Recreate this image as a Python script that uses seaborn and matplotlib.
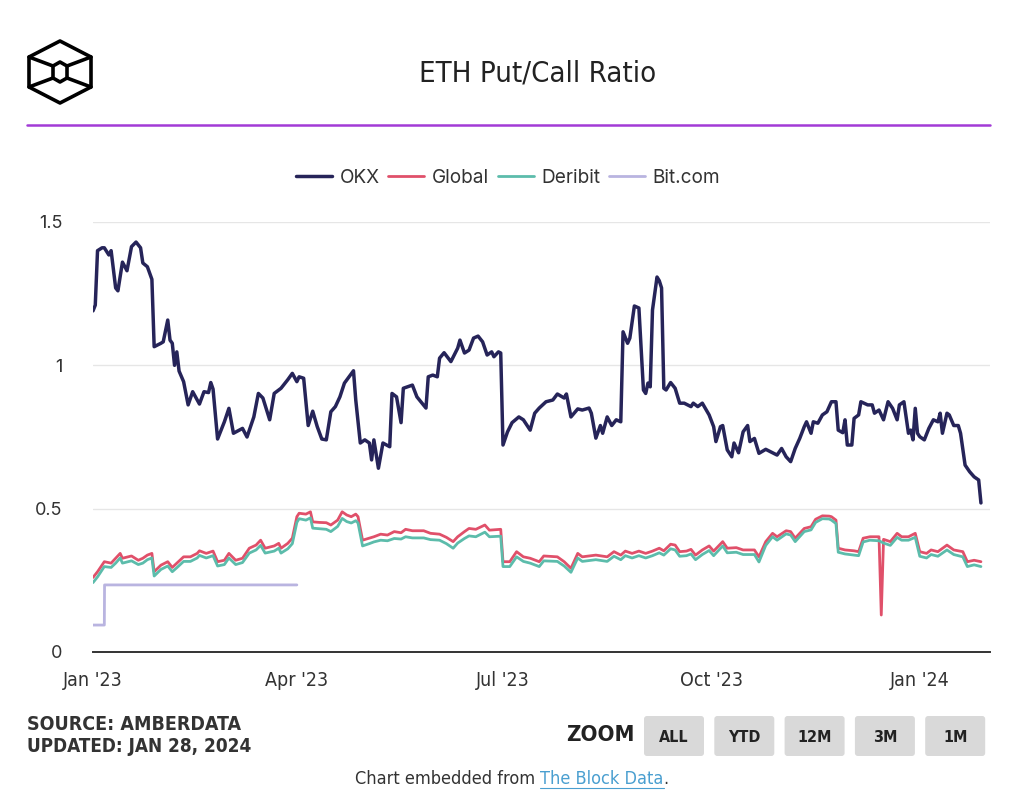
import pandas as pd
import matplotlib.pyplot as plt
import matplotlib.dates as mdates
from matplotlib.patches import FancyBboxPatch, Polygon
import seaborn as sns

# dates are day offsets from 2023-01-01
start = pd.Timestamp('2023-01-01')

okx_days = [0, 1, 2, 4, 5, 7, 8, 10, 11, 13, 15, 17, 19, 21, 22, 24, 26, 27, 30, 31,
            33, 34, 35, 36, 37, 38, 40, 42, 44, 47, 49, 51, 52, 53, 55, 58, 60, 62, 66, 68,
            71, 73, 75, 78, 80, 83, 86, 88, 90, 91, 93, 95, 97, 99, 101, 103, 105, 107, 109, 111,
            115, 116, 118, 120, 122, 123, 124, 126, 128, 131, 132, 134, 136, 137, 140, 141, 143, 147, 148, 150,
            152, 153, 155, 158, 161, 162, 164, 166, 168, 170, 172, 174, 176, 177, 179, 180, 181, 183, 185, 188,
            190, 193, 195, 197, 200, 203, 205, 208, 209, 211, 214, 216, 219, 220, 222, 224, 225, 227, 229, 231,
            233, 234, 236, 237, 239, 241, 243, 244, 245, 246, 247, 249, 250, 251, 252, 253, 255, 257, 259, 261,
            264, 265, 267, 269, 272, 274, 275, 277, 278, 280, 282, 283, 285, 287, 289, 290, 292, 294, 297, 300,
            302, 304, 306, 308, 310, 312, 314, 315, 317, 318, 320, 322, 324, 326, 328, 329, 331, 332, 333, 335,
            336, 338, 339, 342, 344, 345, 347, 349, 351, 353, 355, 356, 358, 360, 361, 362, 363, 364, 365, 367,
            369, 371, 373, 374, 375, 377, 378, 380, 382, 383, 385, 387, 389, 391, 392]
okx_vals = [1.19, 1.21, 1.40, 1.41, 1.41, 1.385, 1.40, 1.27, 1.26, 1.36, 1.33, 1.414, 1.43, 1.41, 1.357, 1.344, 1.30, 1.065, 1.077, 1.082,
            1.158, 1.088, 1.077, 1.0, 1.047, 0.98, 0.943, 0.862, 0.908, 0.865, 0.908, 0.905, 0.94, 0.917, 0.743, 0.803, 0.85, 0.763, 0.78, 0.75,
            0.82, 0.902, 0.886, 0.81, 0.902, 0.92, 0.95, 0.972, 0.943, 0.96, 0.955, 0.79, 0.84, 0.786, 0.743, 0.74, 0.838, 0.856, 0.89, 0.938,
            0.981, 0.879, 0.729, 0.74, 0.729, 0.67, 0.74, 0.641, 0.729, 0.716, 0.902, 0.89, 0.80, 0.92, 0.928, 0.931, 0.89, 0.851, 0.96, 0.966,
            0.96, 1.025, 1.044, 1.013, 1.06, 1.088, 1.043, 1.053, 1.095, 1.102, 1.082, 1.036, 1.047, 1.03, 1.047, 1.043, 0.722, 0.768, 0.80, 0.82,
            0.81, 0.774, 0.833, 0.851, 0.873, 0.879, 0.90, 0.886, 0.90, 0.82, 0.848, 0.844, 0.851, 0.833, 0.746, 0.79, 0.763, 0.82, 0.79, 0.81,
            0.803, 1.117, 1.077, 1.095, 1.207, 1.20, 0.914, 0.902, 0.938, 0.925, 1.193, 1.308, 1.295, 1.27, 0.92, 0.914, 0.94, 0.92, 0.868, 0.868,
            0.856, 0.868, 0.856, 0.868, 0.827, 0.786, 0.734, 0.786, 0.79, 0.705, 0.681, 0.729, 0.695, 0.768, 0.79, 0.734, 0.745, 0.693, 0.707, 0.695,
            0.687, 0.71, 0.681, 0.664, 0.71, 0.745, 0.786, 0.803, 0.763, 0.803, 0.798, 0.827, 0.838, 0.873, 0.873, 0.774, 0.765, 0.81, 0.722, 0.722,
            0.815, 0.827, 0.873, 0.862, 0.862, 0.833, 0.844, 0.81, 0.873, 0.85, 0.81, 0.862, 0.873, 0.763, 0.774, 0.74, 0.85, 0.763, 0.751, 0.74,
            0.78, 0.81, 0.803, 0.833, 0.763, 0.833, 0.827, 0.79, 0.79, 0.763, 0.652, 0.629, 0.611, 0.60, 0.52]

global_days = [0, 2, 5, 8, 10, 12, 13, 17, 20, 22, 24, 26, 27, 30, 33, 35, 37, 40, 43, 46,
               47, 50, 53, 55, 58, 60, 63, 66, 69, 72, 74, 76, 80, 82, 83, 86, 88, 90, 91, 94,
               96, 97, 100, 103, 105, 108, 110, 112, 114, 116, 117, 119, 122, 124, 127, 130, 133, 136, 138, 141,
               146, 149, 153, 156, 159, 161, 164, 166, 169, 173, 175, 180, 181, 184, 187, 190, 193, 197, 199, 205,
               208, 211, 214, 216, 222, 227, 230, 233, 235, 238, 241, 244, 247, 250, 252, 255, 257, 259, 262, 264,
               266, 269, 272, 274, 278, 280, 284, 287, 292, 294, 297, 300, 302, 306, 308, 310, 314, 317, 319, 322,
               325, 326, 328, 329, 332, 336, 338, 340, 343, 347, 348, 349, 352, 355, 357, 360, 363, 365, 368, 370,
               373, 377, 380, 384, 386, 389, 392]
global_vals = [0.26, 0.28, 0.315, 0.31, 0.327, 0.344, 0.327, 0.335, 0.32, 0.327, 0.338, 0.344, 0.28, 0.303, 0.315, 0.295, 0.31, 0.332, 0.332, 0.344,
               0.353, 0.344, 0.352, 0.315, 0.32, 0.344, 0.32, 0.327, 0.362, 0.373, 0.39, 0.362, 0.37, 0.379, 0.362, 0.379, 0.397, 0.472, 0.484, 0.481,
               0.489, 0.454, 0.452, 0.451, 0.443, 0.46, 0.489, 0.478, 0.472, 0.481, 0.472, 0.39, 0.397, 0.402, 0.411, 0.408, 0.42, 0.416, 0.428, 0.423,
               0.423, 0.414, 0.411, 0.40, 0.385, 0.402, 0.42, 0.431, 0.428, 0.443, 0.425, 0.428, 0.315, 0.315, 0.35, 0.332, 0.327, 0.315, 0.335, 0.332,
               0.315, 0.292, 0.344, 0.332, 0.338, 0.332, 0.35, 0.338, 0.352, 0.344, 0.352, 0.344, 0.352, 0.362, 0.353, 0.376, 0.373, 0.35, 0.352, 0.358,
               0.338, 0.356, 0.37, 0.352, 0.385, 0.362, 0.364, 0.356, 0.356, 0.332, 0.385, 0.414, 0.402, 0.423, 0.42, 0.397, 0.431, 0.437, 0.463, 0.475,
               0.474, 0.472, 0.46, 0.362, 0.356, 0.353, 0.35, 0.397, 0.402, 0.402, 0.129, 0.393, 0.385, 0.414, 0.402, 0.402, 0.414, 0.35, 0.344, 0.356,
               0.35, 0.373, 0.356, 0.35, 0.315, 0.32, 0.315]

deribit_days = [0, 2, 5, 8, 10, 12, 13, 17, 20, 22, 24, 26, 27, 30, 33, 35, 37, 40, 43, 46,
                47, 50, 53, 55, 58, 60, 63, 66, 69, 72, 74, 76, 80, 82, 83, 86, 88, 90, 91, 94,
                96, 97, 100, 103, 105, 108, 110, 112, 114, 116, 117, 119, 122, 124, 127, 130, 133, 136, 138, 141,
                146, 149, 153, 156, 159, 161, 164, 166, 169, 173, 175, 180, 181, 184, 187, 190, 193, 197, 199, 205,
                208, 211, 214, 216, 222, 227, 230, 233, 235, 238, 241, 244, 247, 250, 252, 255, 257, 259, 262, 264,
                266, 269, 272, 274, 278, 280, 284, 287, 292, 294, 297, 300, 302, 306, 308, 310, 314, 317, 319, 322,
                325, 326, 328, 329, 332, 336, 338, 340, 343, 347, 349, 352, 355, 357, 360, 363, 365, 368, 370,
                373, 377, 380, 384, 386, 389, 392]
deribit_vals = [0.242, 0.262, 0.298, 0.295, 0.31, 0.328, 0.31, 0.318, 0.305, 0.31, 0.322, 0.328, 0.265, 0.288, 0.30, 0.28, 0.294, 0.316, 0.316, 0.328,
                0.337, 0.328, 0.336, 0.30, 0.305, 0.328, 0.305, 0.312, 0.345, 0.356, 0.372, 0.345, 0.352, 0.362, 0.345, 0.36, 0.378, 0.452, 0.465, 0.46,
                0.468, 0.432, 0.43, 0.428, 0.42, 0.438, 0.466, 0.455, 0.45, 0.458, 0.45, 0.37, 0.378, 0.384, 0.39, 0.388, 0.396, 0.394, 0.402, 0.398,
                0.398, 0.392, 0.39, 0.378, 0.362, 0.38, 0.396, 0.405, 0.402, 0.418, 0.402, 0.404, 0.298, 0.298, 0.332, 0.316, 0.31, 0.298, 0.318, 0.316,
                0.30, 0.278, 0.328, 0.316, 0.322, 0.316, 0.334, 0.322, 0.336, 0.328, 0.336, 0.328, 0.336, 0.346, 0.338, 0.36, 0.356, 0.334, 0.336, 0.342,
                0.322, 0.34, 0.354, 0.336, 0.37, 0.346, 0.348, 0.34, 0.34, 0.314, 0.372, 0.402, 0.39, 0.412, 0.408, 0.385, 0.42, 0.426, 0.452, 0.465,
                0.464, 0.46, 0.448, 0.348, 0.342, 0.338, 0.336, 0.384, 0.39, 0.388, 0.38, 0.372, 0.40, 0.39, 0.39, 0.40, 0.334, 0.328, 0.34,
                0.334, 0.356, 0.34, 0.332, 0.298, 0.304, 0.298]

bitcom_days = [0, 5, 5.1, 90]
bitcom_vals = [0.094, 0.094, 0.234, 0.234]

series = ['OKX', 'Global', 'Deribit', 'Bit.com']
colors = ['#262459', '#e0506a', '#5cbcab', '#b9b4e0']
widths = [2.5, 2.0, 2.0, 2.0]
buttons = ['ALL', 'YTD', '12M', '3M', '1M']


def make_df(days, vals):
    return pd.DataFrame({'date': start + pd.to_timedelta(days, unit='D'), 'ratio': vals})


frames = [make_df(okx_days, okx_vals), make_df(global_days, global_vals),
          make_df(deribit_days, deribit_vals), make_df(bitcom_days, bitcom_vals)]

sns.set_theme(style='white')
plt.rcParams['font.family'] = ['Inter', 'DejaVu Sans']
cond = dict(family=['DejaVu Sans'], stretch='condensed')

fig = plt.figure(figsize=(10.16, 8), dpi=100)

# decorations in pixel coordinates
deco = fig.add_axes([0, 0, 1, 1], zorder=0)
deco.set_xlim(0, 1016)
deco.set_ylim(800, 0)
deco.axis('off')

ax = fig.add_axes([93 / 1016, 1 - 652 / 800, 897 / 1016, 430 / 800], zorder=1)
ax.patch.set_alpha(0)

for df, name, c, lw in zip(frames, series, colors, widths):
    sns.lineplot(data=df, x='date', y='ratio', ax=ax, color=c, linewidth=lw,
                 label=name, estimator=None)

ax.set_ylim(0, 1.5)
ax.set_xlim(start, pd.Timestamp('2024-02-01'))
ax.set_yticks([0, 0.5, 1, 1.5])
ax.set_yticklabels(['0', '0.5', '1', '1.5'])
ax.xaxis.set_major_locator(mdates.MonthLocator(bymonth=[1, 4, 7, 10]))
ax.xaxis.set_major_formatter(mdates.DateFormatter("%b '%y"))
ax.grid(axis='y', color='#e6e6e6', linewidth=1.0)
ax.set_axisbelow(True)
for s in ['top', 'right', 'left']:
    ax.spines[s].set_visible(False)
ax.spines['bottom'].set_color('#333333')
ax.spines['bottom'].set_linewidth(1.4)
ax.tick_params(axis='y', length=0, pad=22, labelsize=13, labelcolor='#333333')
ax.tick_params(axis='x', length=0, pad=14, labelsize=14, labelcolor='#333333')
for lab in ax.get_xticklabels():
    lab.set_family(cond['family'])
    lab.set_stretch(cond['stretch'])
ax.set_xlabel('')
ax.set_ylabel('')

ax.legend(loc='center', bbox_to_anchor=(508 / 1016, 1 - 178 / 800), bbox_transform=fig.transFigure,
          ncol=4, frameon=False, fontsize=13.7, handlelength=1.9, handletextpad=0.4,
          columnspacing=0.45, labelcolor='#333333')

# header
fig.text(538 / 1016, 1 - 74 / 800, 'ETH Put/Call Ratio', ha='center', va='center',
         fontsize=21, color='#222222', **cond)
deco.plot([27, 990], [125, 125], color='#a23bd6', linewidth=1.8)

# logo
lw_logo = 2.6
outer = [(60, 41), (91, 57), (91, 87), (60, 103), (29, 87), (29, 57)]
deco.add_patch(Polygon(outer, closed=True, fill=False, edgecolor='black', linewidth=lw_logo, joinstyle='round'))
inner = [(60, 62), (67, 66), (67, 78), (60, 82), (53, 78), (53, 66)]
deco.add_patch(Polygon(inner, closed=True, fill=False, edgecolor='black', linewidth=lw_logo, joinstyle='round'))
deco.plot([29, 53], [57, 66], color='black', linewidth=lw_logo)
deco.plot([91, 67], [57, 66], color='black', linewidth=lw_logo)
deco.plot([29, 53], [87, 78], color='black', linewidth=lw_logo)
deco.plot([91, 67], [87, 78], color='black', linewidth=lw_logo)

# footer
fig.text(27 / 1016, 1 - 724 / 800, 'SOURCE: AMBERDATA', ha='left', va='center',
         fontsize=14, fontweight='bold', color='#333333', **cond)
fig.text(27 / 1016, 1 - 746 / 800, 'UPDATED: JAN 28, 2024', ha='left', va='center',
         fontsize=13.6, fontweight='bold', color='#333333', **cond)
fig.text(600 / 1016, 1 - 735 / 800, 'ZOOM', ha='center', va='center',
         fontsize=16, fontweight='bold', color='#222222', **cond)
for i, b in enumerate(buttons):
    x0 = 644 + i * 70.3
    deco.add_patch(FancyBboxPatch((x0, 716), 60, 40, boxstyle='round,pad=0,rounding_size=3',
                                  facecolor='#d9d9d9', edgecolor='none'))
    deco.text(x0 + 30, 737, b, ha='center', va='center', fontsize=11.5,
              fontweight='bold', color='#222222', **cond)

t1 = fig.text(355 / 1016, 1 - 779 / 800, 'Chart embedded from ', ha='left', va='center',
              fontsize=13, color='#333333', **cond)
fig.canvas.draw()
bb = t1.get_window_extent()
t2 = fig.text(bb.x1 / fig.bbox.width, 1 - 779 / 800, 'The Block Data', ha='left', va='center',
              fontsize=13, color='#4a9fd0', **cond)
bb2 = t2.get_window_extent()
fig.text(bb2.x1 / fig.bbox.width, 1 - 779 / 800, '.', ha='left', va='center',
         fontsize=13, color='#333333', **cond)
deco.plot([bb2.x0, bb2.x1], [788, 788], color='#4a9fd0', linewidth=0.8)

fig.savefig('out.png', dpi=100)
